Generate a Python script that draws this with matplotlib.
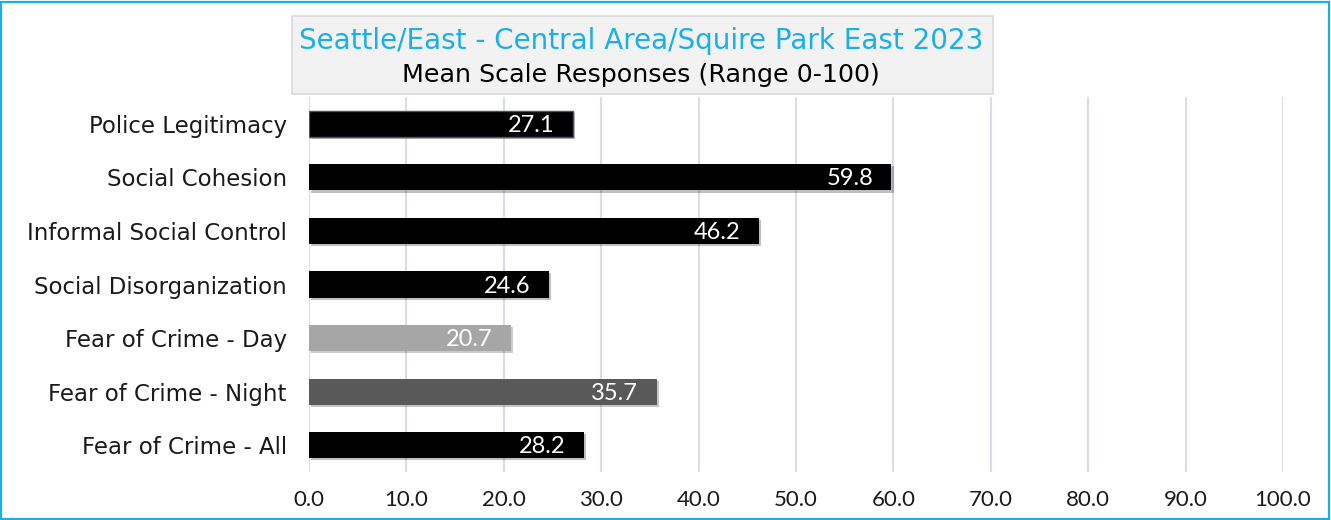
import matplotlib
matplotlib.use("Agg")
import matplotlib.pyplot as plt
from matplotlib.patches import Rectangle
import matplotlib.patheffects as pe

categories = ["Police Legitimacy", "Social Cohesion", "Informal Social Control",
              "Social Disorganization", "Fear of Crime - Day", "Fear of Crime - Night",
              "Fear of Crime - All"]
values = [27.1, 59.8, 46.2, 24.6, 20.7, 35.7, 28.2]
bar_colors = ["#000000", "#000000", "#000000", "#000000", "#A6A6A6", "#595959", "#000000"]
xticks = [0, 10, 20, 30, 40, 50, 60, 70, 80, 90, 100]
title1 = "Seattle/East - Central Area/Squire Park East 2023"
title2 = "Mean Scale Responses (Range 0-100)"

plt.rcParams['font.family'] = ['DejaVu Sans']
NUMFONT = ['Lato', 'DejaVu Sans']

W, H = 1331, 520
fig = plt.figure(figsize=(W/100, H/100), dpi=100)
fig.patch.set_facecolor("white")

# figure border
fig.add_artist(Rectangle((1/W, 1/H), 1 - 3/W, 1 - 3/H, transform=fig.transFigure,
                         fill=False, edgecolor="#1AAFE6", linewidth=1.6))

ax = fig.add_axes([309/W, (H-472)/H, (1283-309)/W, (472-97)/H])
y = list(range(len(categories)))
bars = ax.barh(y, values, height=0.49, color=bar_colors, zorder=3,
               path_effects=[pe.SimplePatchShadow(offset=(1.5, -1.5), alpha=0.25), pe.Normal()])
bars[0].set_edgecolor("#44546A")
bars[0].set_linewidth(1.0)
ax.set_ylim(len(categories) - 0.5, -0.5)
ax.set_xlim(0, 100)
ax.set_yticks(y)
ax.set_yticklabels(categories, fontsize=16.5, color="#1a1a1a")
ax.set_xticks(xticks)
ax.set_xticklabels([f"{t:.1f}" for t in xticks], fontsize=16, color="#1a1a1a",
                   family=NUMFONT)
ax.tick_params(axis='both', length=0)
ax.tick_params(axis='y', pad=16)
ax.tick_params(axis='x', pad=13)
for s in ax.spines.values():
    s.set_visible(False)
ax.grid(axis='x', color="#D9DEE6", linewidth=1.5, zorder=0)
ax.set_axisbelow(True)

for yi, v in zip(y, values):
    ax.text(v - 1.9, yi + 0.03, f"{v:.1f}", ha='right', va='center', color='white',
            fontsize=17, family=NUMFONT, zorder=5)

# title box
fig.add_artist(Rectangle((292/W, (H-94)/H), (993-292)/W, (94-16)/H, transform=fig.transFigure,
                         facecolor="#F2F2F2", edgecolor="#D9D9D9", linewidth=1.2))
fig.text(641/W, (H-41)/H, title1, ha='center', va='center', color="#1AAFE6", fontsize=20)
fig.text(641/W, (H-75)/H, title2, ha='center', va='center', color="#000000", fontsize=18.3)

fig.savefig("out.png", dpi=100)
